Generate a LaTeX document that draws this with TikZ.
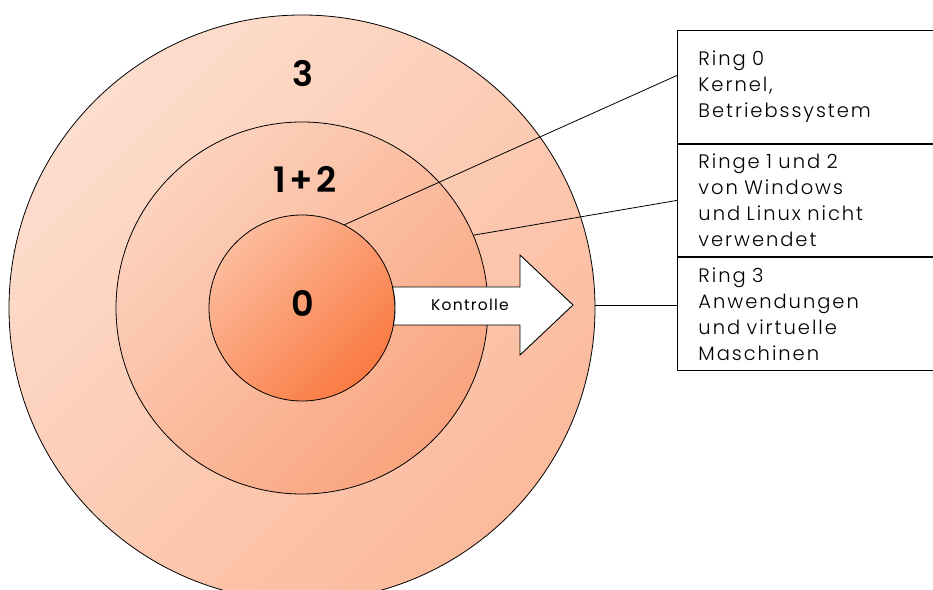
\documentclass[tikz,border=0pt]{standalone}
\usepackage{fontspec}
\setmainfont{Poppins}
\newfontfamily\boxfont[LetterSpace=10]{Poppins Light}
\newfontfamily\arrowfont[LetterSpace=8]{Poppins}
\newfontfamily\digitfont[LetterSpace=10]{Poppins SemiBold}
\usetikzlibrary{calc}

\definecolor{outerL}{HTML}{FDDDCD}
\definecolor{outerD}{HTML}{FBBA9C}
\definecolor{midL}{HTML}{FCD2BE}
\definecolor{midD}{HTML}{F9A47E}
\definecolor{innerL}{HTML}{FCBB9C}
\definecolor{innerD}{HTML}{FA7A42}

\tikzset{
  ringdisc/.style={circle, draw=black, line width=0.8pt, inner sep=0pt},
  ringlabel/.style={font=\digitfont\fontsize{35}{35}\selectfont, text=black},
  infobox/.style={draw=black, line width=0.9pt, rectangle, anchor=north west,
    text width=216pt, inner xsep=21pt, minimum height=112.7pt, align=left,
    font=\boxfont\fontsize{19.5}{26}\selectfont},
  leader/.style={draw=black, line width=0.8pt},
}

\begin{document}
\begin{tikzpicture}[x=1pt, y=1pt]
\useasboundingbox (0,0) rectangle (933,589);
\clip (0,0) rectangle (933,589);

% the three protection rings
\node[ringdisc, minimum size=586pt, top color=outerL, bottom color=outerD, shading angle=45] (r3) at (302,281) {};
\node[ringdisc, minimum size=372pt, top color=midL, bottom color=midD, shading angle=45] (r12) at (302,281) {};
\node[ringdisc, minimum size=186pt, top color=innerL, bottom color=innerD, shading angle=45] (r0) at (302,281) {};

\node[ringlabel] (l3) at (303,515) {3};
\node[ringlabel] (l12) at (305,410) {1+2};
\node[ringlabel] (l0) at (303,286) {0};

% control arrow leaving the kernel ring
\coordinate (ctop) at ($(r0.center)+(13.05:93)$);
\coordinate (cbot) at ($(r0.center)+(-10.53:93)$);
\draw[fill=white, line width=0.9pt, line join=miter]
  (ctop) -- (520,302) -- (520,334) -- (573,284) -- (520,234) -- (520,264)
  -- (cbot) arc[start angle=-10.53, end angle=13.05, radius=93] -- cycle;
\node[font=\arrowfont\fontsize{15.5}{18}\selectfont] (ctl) at (470,284) {Kontrolle};

% explanation boxes
\node[infobox] (b0) at (677,559) {Ring 0\\Kernel,\\Betriebssystem};
\node[infobox] (b1) at (b0.south west) {Ringe 1 und 2\\von Windows\\und Linux nicht\\verwendet};
\node[infobox] (b2) at (b1.south west) {Ring 3\\Anwendungen\\und virtuelle\\Maschinen};

% leader lines
\draw[leader] (r0.63) -- ($(b0.north west)!0.4!(b0.south west)$);
\draw[leader] (r12.23) -- (b1.west);
\draw[leader] (r3.east |- 0,284) -- (b2.west |- 0,284);
\end{tikzpicture}
\end{document}
